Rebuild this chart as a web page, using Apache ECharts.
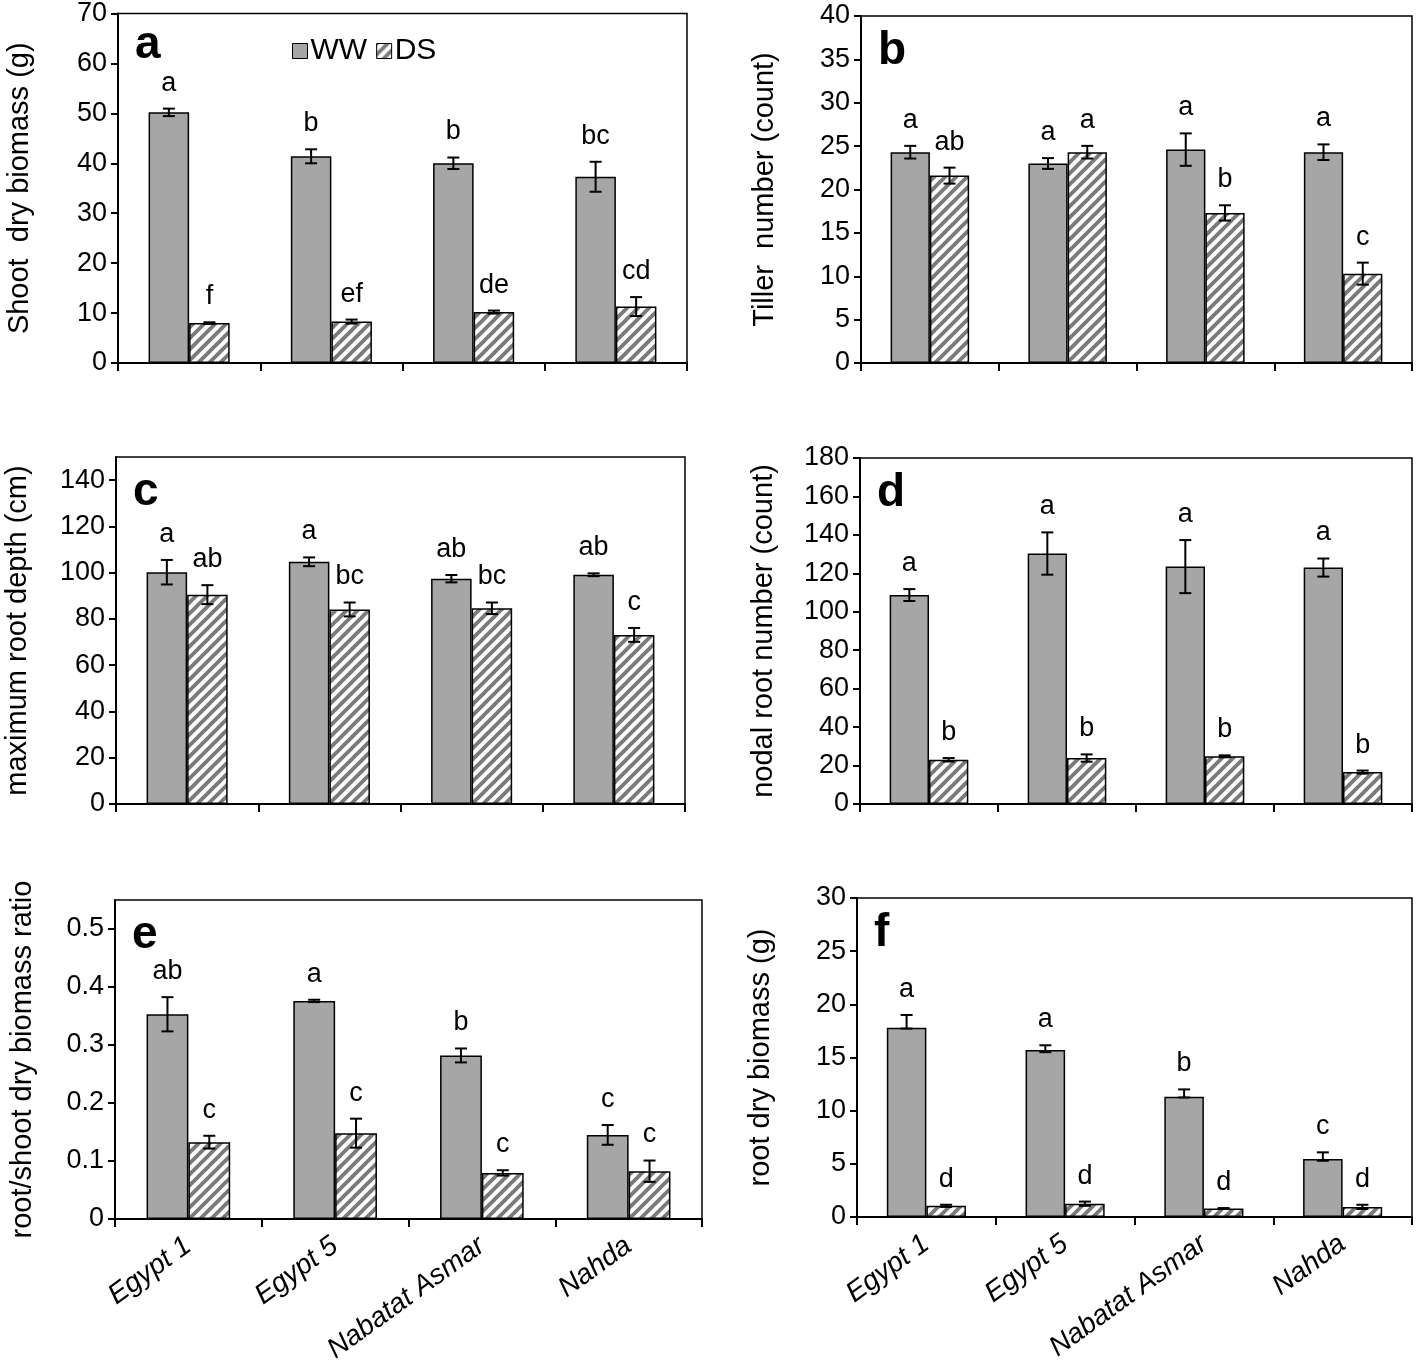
<!DOCTYPE html>
<html>
<head>
<meta charset="utf-8">
<script src="https://cdn.jsdelivr.net/npm/echarts@6/dist/echarts.min.js"></script>
<style>
html,body{margin:0;padding:0;background:#fff;}
#chart{width:1419px;height:1366px;}
</style>
</head>
<body>
<div id="chart"></div>
<script>
// ---------- DATA ----------
const categories = ['Egypt 1', 'Egypt 5', 'Nabatat Asmar', 'Nahda'];
const seriesNames = ['WW', 'DS'];

// a: Shoot dry biomass (g)
const shootWW = [50.2, 41.4, 40.0, 37.3];
const shootWWErr = [0.75, 1.4, 1.15, 3.0];
const shootDS = [8.0, 8.3, 10.2, 11.3];
const shootDSErr = [0.15, 0.4, 0.3, 1.9];
const shootWWLetters = ['a', 'b', 'b', 'bc'];
const shootDSLetters = ['f', 'ef', 'de', 'cd'];

// b: Tiller number (count)
const tillerWW = [24.3, 23.0, 24.6, 24.3];
const tillerWWErr = [0.73, 0.62, 1.87, 0.9];
const tillerDS = [21.6, 24.3, 17.3, 10.3];
const tillerDSErr = [0.92, 0.73, 0.88, 1.27];
const tillerWWLetters = ['a', 'a', 'a', 'a'];
const tillerDSLetters = ['ab', 'a', 'b', 'c'];

// c: maximum root depth (cm)
const depthWW = [100.2, 104.7, 97.4, 99.1];
const depthWWErr = [5.3, 1.9, 1.6, 0.6];
const depthDS = [90.5, 84.1, 84.6, 73.1];
const depthDSErr = [4.1, 3.0, 2.5, 3.0];
const depthWWLetters = ['a', 'a', 'ab', 'ab'];
const depthDSLetters = ['ab', 'bc', 'bc', 'c'];

// d: nodal root number (count)
const nodalWW = [108.7, 130.3, 123.5, 123.0];
const nodalWWErr = [3.1, 11.0, 13.8, 4.7];
const nodalDS = [23.0, 23.9, 24.8, 16.6];
const nodalDSErr = [0.9, 1.9, 0.5, 0.8];
const nodalWWLetters = ['a', 'a', 'a', 'a'];
const nodalDSLetters = ['b', 'b', 'b', 'b'];

// e: root/shoot dry biomass ratio
const ratioWW = [0.353, 0.376, 0.282, 0.145];
const ratioWWErr = [0.0295, 0.002, 0.012, 0.017];
const ratioDS = [0.1325, 0.148, 0.0795, 0.0824];
const ratioDSErr = [0.011, 0.025, 0.0046, 0.0184];
const ratioWWLetters = ['ab', 'a', 'b', 'c'];
const ratioDSLetters = ['c', 'c', 'c', 'c'];

// f: root dry biomass (g)
const rootWW = [17.8, 15.7, 11.3, 5.45];
const rootWWErrUp = [1.2, 0.45, 0.7, 0.63];
const rootWWErrDown = [0.08, 0.2, 0.06, 0.16];
const rootDS = [1.05, 1.25, 0.8, 0.95];
const rootDSErr = [0.1, 0.2, 0.04, 0.2];
const rootWWLetters = ['a', 'a', 'b', 'c'];
const rootDSLetters = ['d', 'd', 'd', 'd'];

// y axis settings
const yMax = [70, 40, 150, 180, 0.55, 30];
const yInterval = [10, 5, 20, 20, 0.1, 5];
const yNames = ['Shoot  dry biomass (g)', 'Tiller  number (count)', 'maximum root depth (cm)',
                'nodal root number (count)', 'root/shoot dry biomass ratio', 'root dry biomass (g)'];
const panelLetters = ['a', 'b', 'c', 'd', 'e', 'f'];

// ---------- LAYOUT / STYLE ----------
const FONT = '"Liberation Sans", Arial, sans-serif';
const CAT_GAP = 0.43;
const grids = [
  {left: 118, top: 10, width: 569, height: 353},
  {left: 861, top: 16, width: 551, height: 347},
  {left: 116, top: 457, width: 569, height: 347},
  {left: 860, top: 458, width: 552, height: 346},
  {left: 115, top: 900, width: 587, height: 319},
  {left: 857, top: 898, width: 555, height: 319}
];

// hatch pattern
function makeHatch() {
  const s = 11;
  const c = document.createElement('canvas');
  c.width = s; c.height = s;
  const ctx = c.getContext('2d');
  ctx.fillStyle = '#ffffff';
  ctx.fillRect(0, 0, s, s);
  ctx.strokeStyle = '#7a7a7a';
  ctx.lineWidth = 3.8;
  [[-s / 2, s / 2, s / 2, -s / 2], [0, s, s, 0], [s / 2, s * 1.5, s * 1.5, s / 2]].forEach(l => {
    ctx.beginPath(); ctx.moveTo(l[0], l[1]); ctx.lineTo(l[2], l[3]); ctx.stroke();
  });
  return c;
}
const hatch = {image: makeHatch(), repeat: 'repeat'};
const wwColor = '#a6a6a6';

const panels = [
  {ww: shootWW, wwLo: shootWWErr, wwHi: shootWWErr, ds: shootDS, dsLo: shootDSErr, dsHi: shootDSErr, wl: shootWWLetters, dl: shootDSLetters},
  {ww: tillerWW, wwLo: tillerWWErr, wwHi: tillerWWErr, ds: tillerDS, dsLo: tillerDSErr, dsHi: tillerDSErr, wl: tillerWWLetters, dl: tillerDSLetters},
  {ww: depthWW, wwLo: depthWWErr, wwHi: depthWWErr, ds: depthDS, dsLo: depthDSErr, dsHi: depthDSErr, wl: depthWWLetters, dl: depthDSLetters},
  {ww: nodalWW, wwLo: nodalWWErr, wwHi: nodalWWErr, ds: nodalDS, dsLo: nodalDSErr, dsHi: nodalDSErr, wl: nodalWWLetters, dl: nodalDSLetters},
  {ww: ratioWW, wwLo: ratioWWErr, wwHi: ratioWWErr, ds: ratioDS, dsLo: ratioDSErr, dsHi: ratioDSErr, wl: ratioWWLetters, dl: ratioDSLetters},
  {ww: rootWW, wwLo: rootWWErrDown, wwHi: rootWWErrUp, ds: rootDS, dsLo: rootDSErr, dsHi: rootDSErr, wl: rootWWLetters, dl: rootDSLetters}
];

function errSeries(idx, vals, lo, hi, letters, side) {
  return {
    type: 'custom',
    xAxisIndex: idx, yAxisIndex: idx,
    z: 10, silent: true,
    data: vals.map((v, i) => [i, v, v - lo[i], v + hi[i]]),
    renderItem: function (params, api) {
      const i = api.value(0);
      const band = api.size([1, 0])[0];
      const bw = band * (1 - CAT_GAP) / 2;
      const x = api.coord([i, api.value(1)])[0] + side * bw / 2;
      const yLo = api.coord([i, api.value(2)])[1];
      const yHi = api.coord([i, api.value(3)])[1];
      const cap = 6;
      const st = {stroke: '#000', lineWidth: 2};
      return {
        type: 'group',
        children: [
          {type: 'line', shape: {x1: x, y1: yLo, x2: x, y2: yHi}, style: st},
          {type: 'line', shape: {x1: x - cap, y1: yLo, x2: x + cap, y2: yLo}, style: st},
          {type: 'line', shape: {x1: x - cap, y1: yHi, x2: x + cap, y2: yHi}, style: st},
          {type: 'text', x: x, y: yHi - 12,
           style: {text: letters[params.dataIndex], textAlign: 'center', textVerticalAlign: 'bottom',
                   font: '27px ' + FONT, fill: '#000'}}
        ]
      };
    }
  };
}

const option = {
  animation: false,
  backgroundColor: '#fff',
  textStyle: {fontFamily: FONT},
  grid: grids.map(g => Object.assign({show: true, borderColor: '#000', borderWidth: 1.5, containLabel: false}, g)),
  legend: {
    data: seriesNames,
    left: 287, top: 31,
    icon: 'rect', itemWidth: 15, itemHeight: 15, itemGap: 9,
    textStyle: {fontSize: 30, color: '#000', fontFamily: FONT, padding: [0, 0, 0, -2]},
    itemStyle: {borderColor: '#000', borderWidth: 1}
  },
  xAxis: grids.map((g, i) => ({
    type: 'category', gridIndex: i, data: categories,
    axisLine: {show: true, lineStyle: {color: '#000', width: 2}},
    axisTick: {show: true, length: 8, lineStyle: {color: '#000', width: 2}},
    axisLabel: {show: i >= 4, rotate: 36, fontSize: 28, fontStyle: 'italic', color: '#000',
                fontFamily: FONT, margin: 24, interval: 0},
    splitLine: {show: false}
  })),
  yAxis: grids.map((g, i) => ({
    type: 'value', gridIndex: i, min: 0, max: yMax[i], interval: yInterval[i],
    name: yNames[i], nameLocation: 'middle', nameGap: i === 4 ? 78 : (i % 2 === 0 ? 84 : 82), nameRotate: 90,
    nameTextStyle: {fontSize: 29, color: '#000', fontFamily: FONT},
    axisLine: {show: true, lineStyle: {color: '#000', width: 2}},
    axisTick: {show: true, length: 7, lineStyle: {color: '#000', width: 2}},
    axisLabel: {fontSize: 27, color: '#000', fontFamily: FONT, margin: 11, showMaxLabel: (i !== 2 && i !== 4)},
    splitLine: {show: false}
  })),
  graphic: grids.map((g, i) => ({
    type: 'text', left: g.left + 17, top: g.top + 12,
    style: {text: panelLetters[i], font: 'bold 46px ' + FONT, fill: '#000'}
  })),
  series: []
};

panels.forEach((p, i) => {
  option.series.push({
    name: 'WW', type: 'bar', xAxisIndex: i, yAxisIndex: i, data: p.ww,
    barGap: '0%', barCategoryGap: (CAT_GAP * 100) + '%',
    itemStyle: {color: wwColor, borderColor: '#000', borderWidth: 1.5}
  });
  option.series.push({
    name: 'DS', type: 'bar', xAxisIndex: i, yAxisIndex: i, data: p.ds,
    barGap: '0%', barCategoryGap: (CAT_GAP * 100) + '%',
    itemStyle: {color: hatch, borderColor: '#000', borderWidth: 1.5}
  });
  option.series.push(errSeries(i, p.ww, p.wwLo, p.wwHi, p.wl, -1));
  option.series.push(errSeries(i, p.ds, p.dsLo, p.dsHi, p.dl, 1));
});

const chart = echarts.init(document.getElementById('chart'), null, {renderer: 'canvas'});
chart.setOption(option);
</script>
</body>
</html>
